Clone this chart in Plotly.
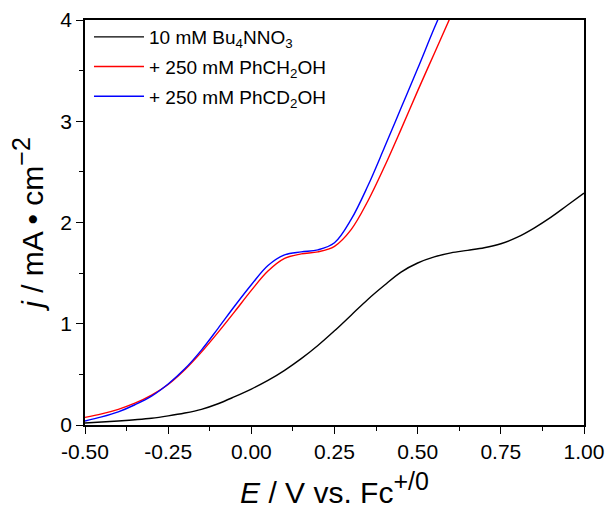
import plotly.graph_objects as go

# Data
e_black = [-0.50, -0.45, -0.40, -0.35, -0.30, -0.25, -0.20, -0.15, -0.10, -0.05, 0.00, 0.05, 0.10, 0.15, 0.20, 0.25, 0.30, 0.35, 0.40, 0.45, 0.50, 0.55, 0.60, 0.65, 0.70, 0.75, 0.80, 0.85, 0.90, 0.95, 1.00]
j_black = [0.020, 0.030, 0.040, 0.052, 0.067, 0.090, 0.118, 0.155, 0.210, 0.280, 0.355, 0.440, 0.540, 0.655, 0.785, 0.930, 1.085, 1.240, 1.380, 1.510, 1.600, 1.660, 1.700, 1.725, 1.750, 1.790, 1.855, 1.945, 2.050, 2.170, 2.290]

e_red = [-0.50, -0.45, -0.40, -0.35, -0.30, -0.25, -0.20, -0.15, -0.10, -0.05, 0.00, 0.05, 0.10, 0.15, 0.20, 0.25, 0.30, 0.35, 0.40, 0.45, 0.50, 0.55, 0.60]
j_red = [0.075, 0.110, 0.155, 0.215, 0.295, 0.400, 0.545, 0.720, 0.915, 1.120, 1.330, 1.520, 1.645, 1.690, 1.710, 1.765, 1.930, 2.210, 2.550, 2.920, 3.300, 3.670, 4.040]

e_blue = [-0.50, -0.45, -0.40, -0.35, -0.30, -0.25, -0.20, -0.15, -0.10, -0.05, 0.00, 0.05, 0.10, 0.15, 0.20, 0.25, 0.30, 0.35, 0.40, 0.45, 0.50, 0.55, 0.60]
j_blue = [0.040, 0.080, 0.130, 0.200, 0.285, 0.405, 0.555, 0.740, 0.955, 1.175, 1.385, 1.575, 1.680, 1.710, 1.730, 1.800, 2.030, 2.360, 2.740, 3.130, 3.520, 3.920, 4.300]

names = ["10 mM Bu<sub>4</sub>NNO<sub>3</sub>",
         "+ 250 mM PhCH<sub>2</sub>OH",
         "+ 250 mM PhCD<sub>2</sub>OH"]
colors = ["#000000", "#FF0000", "#0000FF"]

x_ticks = [-0.50, -0.25, 0.00, 0.25, 0.50, 0.75, 1.00]
x_ticklabels = ["-0.50", "-0.25", "0.00", "0.25", "0.50", "0.75", "1.00"]
y_ticks = [0, 1, 2, 3, 4]

fig = go.Figure()
for i, (ex, jy, nm, c) in enumerate([(e_black, j_black, names[0], colors[0]),
                                     (e_red, j_red, names[1], colors[1]),
                                     (e_blue, j_blue, names[2], colors[2])]):
    fig.add_trace(go.Scatter(x=ex, y=jy, mode="lines", name=nm, legendgroup=f"g{i}",
                             line=dict(color=c, width=1.4, shape="spline", smoothing=1.0)))

font = "Liberation Sans, Arial, sans-serif"
fig.update_layout(
    width=608, height=512,
    margin=dict(l=85, r=24, t=20, b=87),
    plot_bgcolor="white", paper_bgcolor="white",
    font=dict(family=font, color="black", size=21),
    showlegend=True,
    legend=dict(x=0.008, y=1.005, xanchor="left", yanchor="top",
                bgcolor="rgba(0,0,0,0)", font=dict(size=19, family=font),
                itemwidth=50, traceorder="grouped", tracegroupgap=2),
)
fig.update_xaxes(
    range=[-0.5, 1.0], tickvals=x_ticks, ticktext=x_ticklabels, automargin=False,
    showgrid=False, zeroline=False,
    showline=True, linecolor="black", linewidth=1.5, mirror=True,
    ticks="outside", ticklen=7, tickwidth=1.3, tickcolor="black",
    minor=dict(dtick=0.125, ticks="outside", ticklen=4, tickwidth=1.2, tickcolor="black", showgrid=False),
    tickfont=dict(size=21),
    title=dict(text="<i>E</i> / V vs. Fc<sup><span style='font-size:25px'>+/0</span></sup>",
               font=dict(size=30), standoff=20),
)
fig.update_yaxes(
    range=[0, 4], tickvals=y_ticks, automargin=False,
    showgrid=False, zeroline=False,
    showline=True, linecolor="black", linewidth=1.5, mirror=True,
    ticks="outside", ticklen=7, tickwidth=1.3, tickcolor="black",
    minor=dict(dtick=0.5, ticks="outside", ticklen=4, tickwidth=1.2, tickcolor="black", showgrid=False),
    tickfont=dict(size=21),
    title=dict(text="<i>j</i> / mA • cm<sup><span style='font-size:25px'>−2</span></sup>",
               font=dict(size=30), standoff=8),
)
fig.write_html("out.html", config={"displayModeBar": False},
               post_script="document.body.style.margin='0';")
